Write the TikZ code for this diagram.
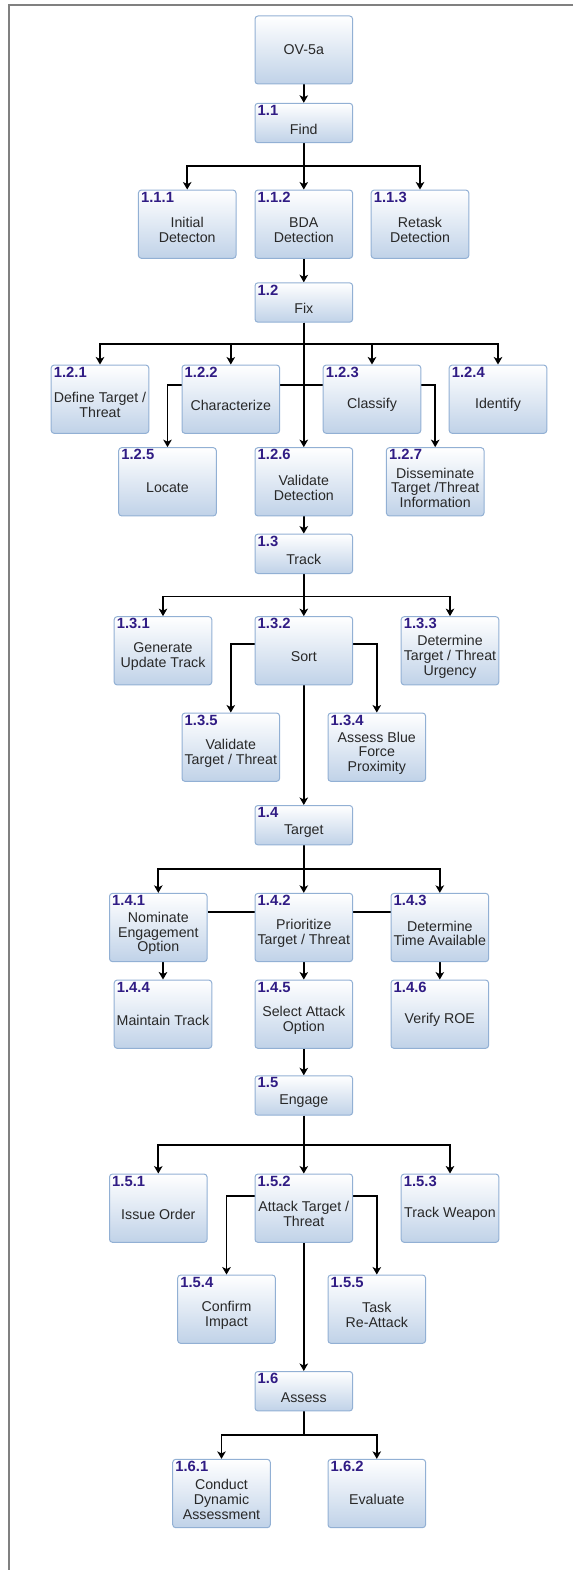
\documentclass[tikz,border=0pt]{standalone}
\usepackage{fontspec}
\setmainfont{Liberation Sans}
\usetikzlibrary{arrows.meta}
\pgfdeclarelayer{edges}
\pgfsetlayers{edges,main}

\definecolor{boxedge}{RGB}{146,176,212}
\definecolor{boxlow}{RGB}{192,210,232}
\definecolor{numcol}{RGB}{48,28,132}
\definecolor{txtcol}{RGB}{40,40,40}
\definecolor{framecol}{RGB}{128,128,128}

\tikzset{
  taskbox/.style={rectangle, rounded corners=3pt, draw=boxedge, line width=1pt,
    top color=white, bottom color=boxlow, minimum width=97.6pt, inner sep=0pt},
  tasknum/.style={anchor=north west, inner sep=0pt, text=numcol,
    font=\bfseries\fontsize{14.8}{14.8}\selectfont},
  tasktext/.style={align=center, inner sep=0pt, text=txtcol,
    font=\fontsize{14.2}{14.8}\selectfont},
  flow/.style={draw=black, line width=1.9pt, -{Stealth[length=7.5pt,width=8.5pt,inset=2pt]}},
  link/.style={draw=black, line width=1.9pt},
  frameline/.style={draw=framecol, line width=2pt}
}

% activity box: name, x, y, height, number, text
\newcommand{\activity}[6]{%
  \node[taskbox, minimum height=#4pt] (#1) at (#2,#3) {};
  \node[tasknum] (#1-num) at ([xshift=3pt,yshift=-2.3pt]#1.north west) {#5};
  \node[tasktext] (#1-txt) at ([yshift=-6pt]#1.center) {#6};
}

\begin{document}
\begin{tikzpicture}[x=1pt,y=-1pt]
\useasboundingbox (0,0) rectangle (573,1570);

% page frame
\draw[frameline] (573,5.5) -- (9,5.5) -- (9,1570);

% root
\node[taskbox, minimum height=68pt] (ov) at (303.8,50) {};
\node[tasktext] (ov-txt) at (ov.center) {OV-5a};

% 1.1 Find
\activity{n11}{303.8}{123}{39.4}{1.1}{Find}
\activity{n111}{187.2}{224.2}{68.3}{1.1.1}{Initial\\Detecton}
\activity{n112}{303.8}{224.2}{68.3}{1.1.2}{BDA\\Detection}
\activity{n113}{420}{224.2}{68.3}{1.1.3}{Retask\\Detection}

% 1.2 Fix
\activity{n12}{303.8}{302.5}{39.4}{1.2}{Fix}
\activity{n121}{100}{399.2}{68.3}{1.2.1}{Define Target /\\Threat}
\activity{n122}{230.8}{399.2}{68.3}{1.2.2}{Characterize}
\activity{n123}{372}{399.2}{68.3}{1.2.3}{Classify}
\activity{n124}{498}{399.2}{68.3}{1.2.4}{Identify}
\activity{n125}{167.5}{481.8}{68.3}{1.2.5}{Locate}
\activity{n126}{303.8}{481.8}{68.3}{1.2.6}{Validate\\Detection}
\activity{n127}{435.2}{481.8}{68.3}{1.2.7}{Disseminate\\Target /Threat\\Information}

% 1.3 Track
\activity{n13}{303.8}{553.8}{39.4}{1.3}{Track}
\activity{n131}{163}{650.8}{68.3}{1.3.1}{Generate\\Update Track}
\activity{n132}{303.8}{650.8}{68.3}{1.3.2}{Sort}
\activity{n133}{450}{650.8}{68.3}{1.3.3}{Determine\\Target / Threat\\Urgency}
\activity{n135}{230.8}{747.2}{68.3}{1.3.5}{Validate\\Target / Threat}
\activity{n134}{376.8}{747.2}{68.3}{1.3.4}{Assess Blue\\Force\\Proximity}

% 1.4 Target
\activity{n14}{303.8}{825.2}{39.4}{1.4}{Target}
\activity{n141}{158.3}{927.5}{68.3}{1.4.1}{Nominate\\Engagement\\Option}
\activity{n142}{303.8}{927.5}{68.3}{1.4.2}{Prioritize\\Target / Threat}
\activity{n143}{439.8}{927.5}{68.3}{1.4.3}{Determine\\Time Available}
\activity{n144}{163}{1014.2}{68.3}{1.4.4}{Maintain Track}
\activity{n145}{303.8}{1014.2}{68.3}{1.4.5}{Select Attack\\Option}
\activity{n146}{439.8}{1014.2}{68.3}{1.4.6}{Verify ROE}

% 1.5 Engage
\activity{n15}{303.8}{1095.5}{39.4}{1.5}{Engage}
\activity{n151}{158.3}{1208.2}{68.3}{1.5.1}{Issue Order}
\activity{n152}{303.8}{1208.2}{68.3}{1.5.2}{Attack Target /\\Threat}
\activity{n153}{450}{1208.2}{68.3}{1.5.3}{Track Weapon}
\activity{n154}{226.5}{1309.2}{68.3}{1.5.4}{Confirm\\Impact}
\activity{n155}{376.8}{1309.2}{68.3}{1.5.5}{Task\\Re-Attack}

% 1.6 Assess
\activity{n16}{303.8}{1391.2}{39.4}{1.6}{Assess}
\activity{n161}{221.5}{1493.5}{68.3}{1.6.1}{Conduct\\Dynamic\\Assessment}
\activity{n162}{376.8}{1493.5}{68.3}{1.6.2}{Evaluate}

\begin{pgfonlayer}{edges}
  % root to Find
  \draw[flow] (ov.south) -- (n11.north);
  % Find
  \draw[flow] (n11.south) -- ++(0,23) -| (n111.north);
  \draw[flow] (n11.south) -- (n112.north);
  \draw[flow] (n11.south) -- ++(0,23) -| (n113.north);
  \draw[flow] (n112.south) -- (n12.north);
  % Fix
  \draw[flow] (n12.south) -- ++(0,21) -| (n121.north);
  \draw[flow] (n12.south) -- ++(0,21) -| (n122.north);
  \draw[flow] (n12.south) -- ++(0,21) -| (n123.north);
  \draw[flow] (n12.south) -- ++(0,21) -| (n124.north);
  \draw[flow] (n12.south) -- ++(0,62) -| (n125.north);
  \draw[flow] (n12.south) -- (n126.north);
  \draw[flow] (n12.south) -- ++(0,62) -| (n127.north);
  \draw[flow] (n126.south) -- (n13.north);
  % Track
  \draw[flow] (n13.south) -- ++(0,22.5) -| (n131.north);
  \draw[flow] (n13.south) -- (n132.north);
  \draw[flow] (n13.south) -- ++(0,22.5) -| (n133.north);
  \draw[flow] ([yshift=6.8pt]n132.west) -| (n135.north);
  \draw[flow] ([yshift=6.8pt]n132.east) -| (n134.north);
  \draw[flow] (n132.south) -- (n14.north);
  % Target
  \draw[flow] (n14.south) -- ++(0,23.4) -| (n141.north);
  \draw[flow] (n14.south) -- (n142.north);
  \draw[flow] (n14.south) -- ++(0,23.4) -| (n143.north);
  \draw[link] ([yshift=15.2pt]n141.east) -- ([yshift=15.2pt]n143.west);
  \draw[flow] (n141.south -| n144.north) -- (n144.north);
  \draw[flow] (n142.south) -- (n145.north);
  \draw[flow] (n143.south) -- (n146.north);
  \draw[flow] (n145.south) -- (n15.north);
  % Engage
  \draw[flow] (n15.south) -- ++(0,29) -| (n151.north);
  \draw[flow] (n15.south) -- (n152.north);
  \draw[flow] (n15.south) -- ++(0,29) -| (n153.north);
  \draw[flow] ([yshift=12.5pt]n152.west) -| (n154.north);
  \draw[flow] ([yshift=12.5pt]n152.east) -| (n155.north);
  \draw[flow] (n152.south) -- (n16.north);
  % Assess
  \draw[flow] (n16.south) -- ++(0,24) -| (n161.north);
  \draw[flow] (n16.south) -- ++(0,24) -| (n162.north);
\end{pgfonlayer}
\end{tikzpicture}
\end{document}
